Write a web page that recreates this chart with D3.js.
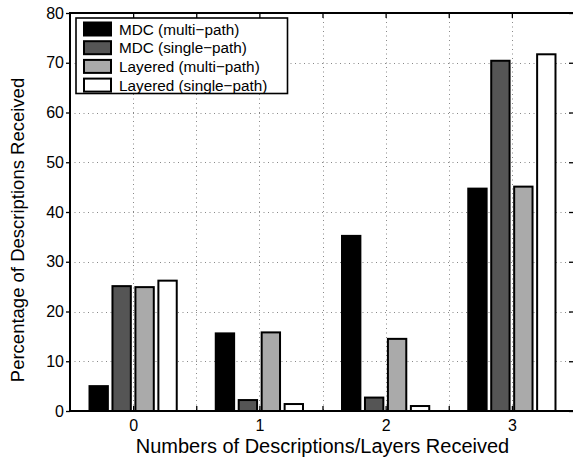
<!DOCTYPE html>
<html><head><meta charset="utf-8">
<script src="https://cdn.jsdelivr.net/npm/d3@7"></script>
<style>
html,body{margin:0;padding:0;background:#fff;}
svg{display:block;font-family:"Liberation Sans",Arial,Helvetica,sans-serif;}
</style></head>
<body>
<svg id="chart" width="573" height="460"></svg>
<script>
const categories = [0, 1, 2, 3];
const categoryLabels = ["0", "1", "2", "3"];
const seriesNames = ["MDC (multi\u2212path)", "MDC (single\u2212path)", "Layered (multi\u2212path)", "Layered (single\u2212path)"];
const mdcMulti = [5.0, 15.6, 35.2, 44.7];
const mdcSingle = [25.1, 2.2, 2.7, 70.4];
const layeredMulti = [24.9, 15.8, 14.5, 45.1];
const layeredSingle = [26.2, 1.4, 1.0, 71.7];
const seriesColors = ["#000000", "#555555", "#aaaaaa", "#ffffff"];
const yTicks = [0, 10, 20, 30, 40, 50, 60, 70, 80];
const xMinorTicks = [0, 0.5, 1, 1.5, 2, 2.5, 3];

const seriesValues = [mdcMulti, mdcSingle, layeredMulti, layeredSingle];

const svg = d3.select("#chart");
const L = 70, R = 575, T = 13, B = 411;
const x = d3.scaleLinear().domain([-0.5, 3.5]).range([L, R]);
const y = d3.scaleLinear().domain([0, 80]).range([B, T]);

// grid
const grid = svg.append("g").attr("stroke", "#888").attr("stroke-width", 1).attr("stroke-dasharray", "1,3.5");
grid.selectAll("line.h").data(yTicks.filter(d => d > 0 && d < 80)).enter().append("line")
  .attr("x1", L).attr("x2", R).attr("y1", d => Math.round(y(d)) + 0.5).attr("y2", d => Math.round(y(d)) + 0.5);
grid.selectAll("line.v").data(xMinorTicks).enter().append("line")
  .attr("y1", T).attr("y2", B).attr("x1", d => Math.round(x(d)) + 0.5).attr("x2", d => Math.round(x(d)) + 0.5);

// bars
const groupW = 4 / 5.5;
const pitch = groupW / 4;
const barW = pitch * 0.8;
const unit = x(1) - x(0);
seriesValues.forEach((vals, j) => {
  svg.append("g").selectAll("rect").data(categories).enter().append("rect")
    .attr("x", (d) => x(d + (j - 1.5) * pitch - barW / 2))
    .attr("width", barW * unit)
    .attr("y", (d, i) => y(vals[i]))
    .attr("height", (d, i) => y(0) - y(vals[i]))
    .attr("fill", seriesColors[j])
    .attr("stroke", "#000")
    .attr("stroke-width", 2);
});

// axes
const bottomAxis = d3.axisBottom(x).tickValues(xMinorTicks).tickSize(-5)
  .tickFormat(d => Number.isInteger(d) ? categoryLabels[d] : "").tickPadding(9);
const gB = svg.append("g").attr("transform", `translate(0,${B})`).call(bottomAxis);
const topAxis = d3.axisTop(x).tickValues(xMinorTicks).tickSize(-5).tickFormat("");
const gT = svg.append("g").attr("transform", `translate(0,${T})`).call(topAxis);
const leftAxis = d3.axisLeft(y).tickValues(yTicks).tickSize(4).tickPadding(2);
const gL = svg.append("g").attr("transform", `translate(${L},0)`).call(leftAxis);
const rightAxis = d3.axisRight(y).tickValues(yTicks).tickSize(-6).tickFormat("");
const gR = svg.append("g").attr("transform", `translate(${R},0)`).call(rightAxis);
[gB, gT, gL, gR].forEach(g => {
  g.selectAll(".domain").remove();
  g.selectAll(".tick line").attr("stroke", "#000").attr("stroke-width", 1.3);
  g.selectAll(".tick text").attr("font-size", 16).attr("fill", "#000")
    .attr("font-family", "'Liberation Sans', Arial, sans-serif");
});
// frame
svg.append("rect").attr("x", L).attr("y", T).attr("width", R - L).attr("height", B - T)
  .attr("fill", "none").attr("stroke", "#000").attr("stroke-width", 2);

// axis labels
svg.append("text").attr("x", (L + R) / 2).attr("y", 453).attr("text-anchor", "middle")
  .attr("font-size", 20).attr("fill", "#000").text("Numbers of Descriptions/Layers Received");
svg.append("text").attr("transform", `translate(24,${(T + B) / 2 + 18}) rotate(-90)`)
  .attr("text-anchor", "middle").attr("font-size", 18.5).attr("fill", "#000")
  .text("Percentage of Descriptions Received");

// legend
const lg = svg.append("g");
lg.append("rect").attr("x", 76).attr("y", 18).attr("width", 211.5).attr("height", 75.5)
  .attr("fill", "#fff").attr("stroke", "#000").attr("stroke-width", 1.6);
seriesNames.forEach((name, j) => {
  const cy = 29 + j * 18.7;
  lg.append("rect").attr("x", 84).attr("y", cy - 6.5).attr("width", 27).attr("height", 13)
    .attr("fill", seriesColors[j]).attr("stroke", "#000").attr("stroke-width", 2);
  lg.append("text").attr("x", 119).attr("y", cy).attr("dy", "0.36em")
    .attr("font-size", 15.3).attr("fill", "#000").text(name);
});
</script>
</body></html>
